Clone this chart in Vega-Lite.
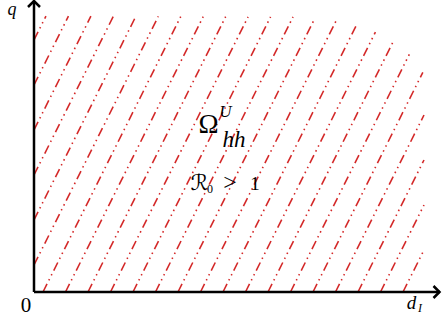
{
  "$schema": "https://vega.github.io/schema/vega-lite/v6.json",
  "width": 442,
  "height": 326,
  "autosize": {"type": "none"},
  "padding": 0,
  "background": "white",
  "config": {"view": {"stroke": null}, "text": {"font": "Liberation Serif, serif"}},
  "encoding": {
    "x": {"field": "x", "type": "quantitative", "scale": {"domain": [-0.85, 10.2], "nice": false, "zero": false}, "axis": null},
    "y": {"field": "y", "type": "quantitative", "scale": {"domain": [-0.85, 7.3], "nice": false, "zero": false}, "axis": null}
  },
  "layer": [
    {
      "data": {"values": [
        {"k": -6, "x": 0, "y": 6.3}, {"k": -6, "x": 0.299, "y": 6.899},
        {"k": -5, "x": 0, "y": 5.175}, {"k": -5, "x": 0.861, "y": 6.897},
        {"k": -4, "x": 0, "y": 4.05}, {"k": -4, "x": 1.422, "y": 6.895},
        {"k": -3, "x": 0, "y": 2.925}, {"k": -3, "x": 1.984, "y": 6.893},
        {"k": -2, "x": 0, "y": 1.8}, {"k": -2, "x": 2.545, "y": 6.89},
        {"k": -1, "x": 0, "y": 0.675}, {"k": -1, "x": 3.107, "y": 6.888},
        {"k": 0, "x": 0.225, "y": 0}, {"k": 0, "x": 3.668, "y": 6.886},
        {"k": 1, "x": 0.7875, "y": 0}, {"k": 1, "x": 4.23, "y": 6.884},
        {"k": 2, "x": 1.35, "y": 0}, {"k": 2, "x": 4.791, "y": 6.882},
        {"k": 3, "x": 1.9125, "y": 0}, {"k": 3, "x": 5.352, "y": 6.88},
        {"k": 4, "x": 2.475, "y": 0}, {"k": 4, "x": 5.914, "y": 6.878},
        {"k": 5, "x": 3.0375, "y": 0}, {"k": 5, "x": 6.475, "y": 6.876},
        {"k": 6, "x": 3.6, "y": 0}, {"k": 6, "x": 7.019, "y": 6.838},
        {"k": 7, "x": 4.1625, "y": 0}, {"k": 7, "x": 7.555, "y": 6.785},
        {"k": 8, "x": 4.725, "y": 0}, {"k": 8, "x": 8.052, "y": 6.654},
        {"k": 9, "x": 5.2875, "y": 0}, {"k": 9, "x": 8.535, "y": 6.496},
        {"k": 10, "x": 5.85, "y": 0}, {"k": 10, "x": 9.004, "y": 6.308},
        {"k": 11, "x": 6.4125, "y": 0}, {"k": 11, "x": 9.383, "y": 5.942},
        {"k": 12, "x": 6.975, "y": 0}, {"k": 12, "x": 9.721, "y": 5.491},
        {"k": 13, "x": 7.5375, "y": 0}, {"k": 13, "x": 9.75, "y": 4.425},
        {"k": 14, "x": 8.1, "y": 0}, {"k": 14, "x": 9.75, "y": 3.3},
        {"k": 15, "x": 8.6625, "y": 0}, {"k": 15, "x": 9.75, "y": 2.175},
        {"k": 16, "x": 9.225, "y": 0}, {"k": 16, "x": 9.75, "y": 1.05}
      ]},
      "mark": {"type": "line", "color": "#d42a2a", "strokeWidth": 1.6, "strokeDash": [9, 4, 1.5, 4, 1.5, 4], "strokeCap": "butt"},
      "encoding": {"detail": {"field": "k", "type": "nominal"}}
    },
    {
      "data": {"values": [
        {"x": 0, "y": 0, "x2": 0, "y2": 7.28},
        {"x": 0, "y": 0, "x2": 10.15, "y2": 0}
      ]},
      "mark": {"type": "rule", "color": "black", "strokeWidth": 2.5},
      "encoding": {"x2": {"field": "x2"}, "y2": {"field": "y2"}}
    },
    {
      "data": {"values": [{"x": 0, "y": 7.2}]},
      "mark": {"type": "point", "shape": "M-1,0.5L0,-0.5L1,0.5", "size": 144, "filled": false, "stroke": "black", "strokeWidth": 2.5, "opacity": 1},
      "encoding": {}
    },
    {
      "data": {"values": [{"x": 10.0625, "y": 0}]},
      "mark": {"type": "point", "shape": "M-0.5,-1L0.5,0L-0.5,1", "size": 144, "filled": false, "stroke": "black", "strokeWidth": 2.5, "opacity": 1},
      "encoding": {}
    },
    {
      "data": {"values": [{"t": "q", "x": -0.55, "y": 6.92}]},
      "mark": {"type": "text", "fontStyle": "italic", "fontSize": 18, "align": "center", "baseline": "alphabetic", "color": "black"},
      "encoding": {"text": {"field": "t"}}
    },
    {
      "data": {"values": [{"t": "d", "x": 9.4375, "y": -0.425}]},
      "mark": {"type": "text", "fontStyle": "italic", "fontSize": 19, "align": "center", "baseline": "alphabetic", "color": "black"},
      "encoding": {"text": {"field": "t"}}
    },
    {
      "data": {"values": [{"t": "hh", "x": 5.0, "y": 3.625}]},
      "mark": {"type": "text", "fontStyle": "italic", "fontSize": 23, "align": "center", "baseline": "alphabetic", "color": "black"},
      "encoding": {"text": {"field": "t"}}
    },
    {
      "data": {"values": [{"t": "U", "x": 4.7875, "y": 4.375}]},
      "mark": {"type": "text", "fontStyle": "italic", "fontSize": 17, "align": "center", "baseline": "alphabetic", "color": "black"},
      "encoding": {"text": {"field": "t"}}
    },
    {
      "data": {"values": [{"t": "I", "x": 9.65, "y": -0.5}]},
      "mark": {"type": "text", "fontStyle": "italic", "fontSize": 12, "align": "center", "baseline": "alphabetic", "color": "black"},
      "encoding": {"text": {"field": "t"}}
    },
    {
      "data": {"values": [{"t": "0", "x": -0.2, "y": -0.4875}]},
      "mark": {"type": "text", "fontSize": 21, "align": "center", "baseline": "alphabetic", "color": "black"},
      "encoding": {"text": {"field": "t"}}
    },
    {
      "data": {"values": [{"t": "Ω", "x": 4.3625, "y": 3.975}]},
      "mark": {"type": "text", "fontSize": 27, "align": "center", "baseline": "alphabetic", "color": "black"},
      "encoding": {"text": {"field": "t"}}
    },
    {
      "data": {"values": [{"t": "ℛ", "x": 4.13, "y": 2.55}]},
      "mark": {"type": "text", "font": "DejaVu Sans", "fontSize": 22, "align": "center", "baseline": "alphabetic", "color": "black"},
      "encoding": {"text": {"field": "t"}}
    },
    {
      "data": {"values": [{"t": ">", "x": 4.9, "y": 2.55}]},
      "mark": {"type": "text", "fontSize": 24, "align": "center", "baseline": "alphabetic", "color": "black"},
      "encoding": {"text": {"field": "t"}}
    },
    {
      "data": {"values": [{"t": "1", "x": 5.525, "y": 2.55}]},
      "mark": {"type": "text", "fontSize": 19, "align": "center", "baseline": "alphabetic", "color": "black"},
      "encoding": {"text": {"field": "t"}}
    },
    {
      "data": {"values": [{"t": "0", "x": 4.4, "y": 2.475}]},
      "mark": {"type": "text", "fontSize": 12, "align": "center", "baseline": "alphabetic", "color": "black"},
      "encoding": {"text": {"field": "t"}}
    }
  ]
}
